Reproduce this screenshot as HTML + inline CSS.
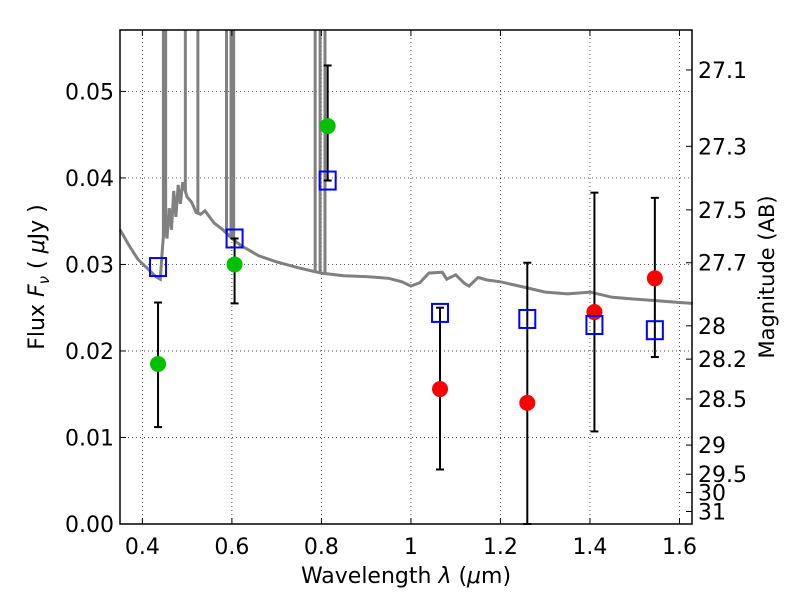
<!DOCTYPE html>
<html><head><meta charset="utf-8"><style>
body{margin:0;background:#fff}
svg text{font-family:"DejaVu Sans","Liberation Sans",sans-serif;fill:#000}
</style></head><body>
<svg id="chart" width="800" height="600" xmlns="http://www.w3.org/2000/svg">
<rect width="800" height="600" fill="#fff"/>
<g id="grid"></g>
<g id="spec"></g>
<g id="marks"></g>
<g id="axes"></g>
<text x="406" y="583" font-size="22" text-anchor="middle">Wavelength  <tspan font-style="italic">λ</tspan> (<tspan font-style="italic">μ</tspan>m)</text>
<text transform="translate(44,277) rotate(-90)" font-size="22" text-anchor="middle">Flux  <tspan font-style="italic">F</tspan><tspan font-style="italic" font-size="15" dy="5">ν</tspan><tspan dy="-5">  (  </tspan><tspan font-style="italic">μ</tspan>Jy )</text>
<text transform="translate(774,277) rotate(-90)" font-size="21" text-anchor="middle">Magnitude (AB)</text>
</svg>
<script>
const xTicks=[0.4,0.6,0.8,1,1.2,1.4,1.6];
const xTickLabels=["0.4","0.6","0.8","1","1.2","1.4","1.6"];
const yTicks=[0,0.01,0.02,0.03,0.04,0.05];
const yTickLabels=["0.00","0.01","0.02","0.03","0.04","0.05"];
const magTicks=[27.1,27.3,27.5,27.7,28,28.2,28.5,29,29.5,30,31];
const magLabels=["27.1","27.3","27.5","27.7","28","28.2","28.5","29","29.5","30","31"];
const greenWave=[0.435,0.606,0.814];
const greenFlux=[0.0185,0.0300,0.0460];
const greenLo=[0.0112,0.0255,0.0397];
const greenHi=[0.0256,0.0330,0.0530];
const redWave=[1.065,1.26,1.41,1.545];
const redFlux=[0.0156,0.0140,0.0245,0.0284];
const redLo=[0.0063,0.0,0.0107,0.0193];
const redHi=[0.0250,0.0302,0.0383,0.0377];
const modelWave=[0.435,0.606,0.814,1.065,1.26,1.41,1.545];
const modelFlux=[0.0297,0.0330,0.0397,0.0244,0.0237,0.0230,0.0224];
const specWave=[0.35,0.37,0.39,0.41,0.43,0.44,0.445,0.45,0.455,0.46,0.465,0.47,0.475,0.48,0.485,0.49,0.5,0.51,0.52,0.53,0.54,0.55,0.56,0.58,0.6,0.62,0.64,0.66,0.7,0.75,0.8,0.85,0.9,0.95,0.98,1.0,1.02,1.04,1.07,1.08,1.1,1.12,1.13,1.15,1.17,1.2,1.25,1.3,1.35,1.4,1.45,1.5,1.55,1.6,1.63];
const specFlux=[0.0340,0.0322,0.0306,0.0296,0.0286,0.0283,0.0320,0.0350,0.0330,0.0365,0.0340,0.0385,0.0355,0.0392,0.0370,0.0395,0.0378,0.0372,0.0360,0.0358,0.0362,0.0355,0.0348,0.0340,0.0330,0.0322,0.0316,0.0310,0.0303,0.0296,0.0290,0.0287,0.0286,0.0284,0.0280,0.0275,0.0279,0.0290,0.0291,0.0283,0.0288,0.0278,0.0275,0.0285,0.0282,0.0280,0.0274,0.0268,0.0266,0.0268,0.0262,0.0260,0.0258,0.0256,0.0255];
const lineWave=[0.447,0.452,0.496,0.524,0.588,0.598,0.604,0.786,0.797,0.808];
const L=120,R=692,T=30,B=524,X0=0.35,X1=1.628,Y0=0,Y1=0.0571;
const sx=v=>L+(v-X0)/(X1-X0)*(R-L);
const sy=v=>B-(v-Y0)/(Y1-Y0)*(B-T);
const NS="http://www.w3.org/2000/svg";
function mk(tag,parent,attrs){const e=document.createElementNS(NS,tag);for(const k in attrs)e.setAttribute(k,attrs[k]);document.getElementById(parent).appendChild(e);return e;}
xTicks.forEach((v,i)=>{
 const g=mk('line','grid',{x1:sx(v),x2:sx(v),y1:T,y2:B,stroke:'#000','stroke-width':0.7,'stroke-dasharray':'1,3'});
 
 
 mk('line','axes',{x1:sx(v),x2:sx(v),y1:B,y2:B-6,stroke:'#000'});
 mk('line','axes',{x1:sx(v),x2:sx(v),y1:T,y2:T+6,stroke:'#000'});
 const t=mk('text','axes',{x:sx(v),y:B+30,'font-size':22,'text-anchor':'middle'});t.textContent=xTickLabels[i];
 
 
});
yTicks.forEach((v,i)=>{
 const g=mk('line','grid',{x1:L,x2:R,y1:sy(v),y2:sy(v),stroke:'#000','stroke-width':0.7,'stroke-dasharray':'1,3'});
 
 
 mk('line','axes',{x1:L,x2:L+6,y1:sy(v),y2:sy(v),stroke:'#000'});
 const t=mk('text','axes',{x:L-6,y:sy(v)+8,'font-size':22,'text-anchor':'end'});t.textContent=yTickLabels[i];
 
 
});
magTicks.forEach((m,i)=>{
 const f=Math.pow(10,(23.9-m)/2.5);const y=sy(f);
 mk('line','axes',{x1:R,x2:R-6,y1:y,y2:y,stroke:'#000'});
 const t=mk('text','axes',{x:R+6,y:y+8,'font-size':22});t.textContent=magLabels[i];
 
 
});
let d=specWave.map((w,i)=>(i?'L':'M')+sx(w).toFixed(1)+','+sy(specFlux[i]).toFixed(1)).join('');
const sp=mk('path','spec',{d:d,fill:'none',stroke:'#808080','stroke-width':3});


lineWave.forEach(w=>{
 let f=specFlux[0];for(let i=1;i<specWave.length;i++){if(specWave[i]>=w){const a=(w-specWave[i-1])/(specWave[i]-specWave[i-1]);f=specFlux[i-1]+a*(specFlux[i]-specFlux[i-1]);break;}}
 const ln=mk('line','spec',{x1:sx(w),x2:sx(w),y1:sy(f),y2:T,stroke:'#808080','stroke-width':3});
 
 
});
function err(w,lo,hi){
 mk('line','marks',{x1:sx(w),x2:sx(w),y1:sy(lo),y2:sy(hi),stroke:'#000','stroke-width':2});
 mk('line','marks',{x1:sx(w)-4,x2:sx(w)+4,y1:sy(lo),y2:sy(lo),stroke:'#000','stroke-width':2});
 mk('line','marks',{x1:sx(w)-4,x2:sx(w)+4,y1:sy(hi),y2:sy(hi),stroke:'#000','stroke-width':2});
}
greenWave.forEach((w,i)=>{err(w,greenLo[i],greenHi[i]);
 const c=mk('circle','marks',{cx:sx(w),cy:sy(greenFlux[i]),r:8,fill:'#00c000'});
 
 });
redWave.forEach((w,i)=>{err(w,redLo[i],redHi[i]);
 const c=mk('circle','marks',{cx:sx(w),cy:sy(redFlux[i]),r:8,fill:'#ff0000'});
 
 });
modelWave.forEach((w,i)=>{
 const r=mk('rect','marks',{x:sx(w)-8,y:sy(modelFlux[i])-9,width:16,height:18,fill:'none',stroke:'#0000ff','stroke-width':2});
 
 });
mk('rect','axes',{x:L,y:T,width:R-L,height:B-T,fill:'none',stroke:'#000','stroke-width':1.5});
</script>
</body></html>
